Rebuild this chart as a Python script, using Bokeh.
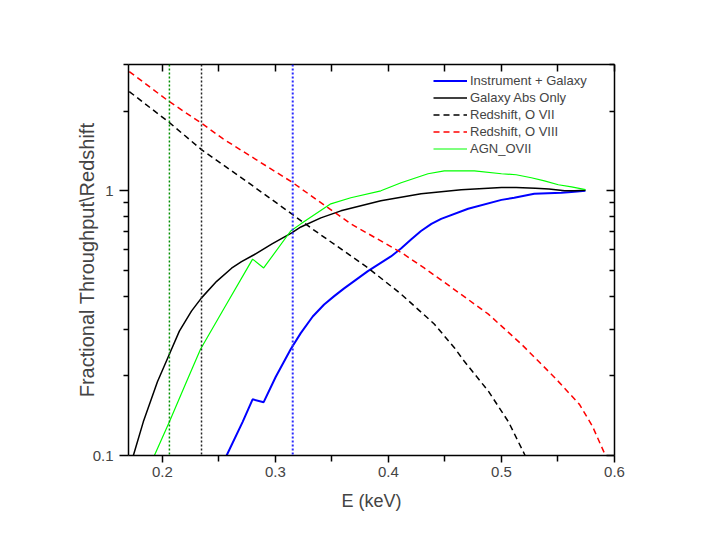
from bokeh.plotting import figure
from bokeh.models import (Range1d, FixedTicker, LinearAxis, LogAxis, Span,
                          CustomJSTickFormatter)
from bokeh.embed import file_html
from bokeh.resources import INLINE

# ---------------- data ----------------
energy_inst = [0.2568, 0.2710, 0.2798, 0.2896, 0.3002, 0.3135, 0.3224, 0.3330,
               0.3431, 0.3520, 0.3605, 0.3818, 0.4022, 0.4111, 0.4200, 0.4288,
               0.4380, 0.4466, 0.4705, 0.5000, 0.5113, 0.5290, 0.5530, 0.5619,
               0.5743]
thru_inst = [0.100, 0.134, 0.163, 0.159, 0.198, 0.252, 0.290, 0.335,
             0.372, 0.400, 0.427, 0.497, 0.565, 0.605, 0.655, 0.705,
             0.750, 0.783, 0.855, 0.924, 0.941, 0.974, 0.983, 0.990,
             1.000]

energy_gal = [0.1743, 0.1831, 0.1956, 0.2050, 0.2150, 0.2257, 0.2346, 0.2480,
              0.2612, 0.2700, 0.2807, 0.2970, 0.3144, 0.3225, 0.3402, 0.3579,
              0.3933, 0.4289, 0.4644, 0.5000, 0.5130, 0.5300, 0.5420, 0.5560,
              0.5650, 0.5743]
thru_gal = [0.100, 0.134, 0.190, 0.235, 0.295, 0.351, 0.394, 0.455,
            0.510, 0.540, 0.572, 0.630, 0.693, 0.730, 0.790, 0.840,
            0.917, 0.974, 1.009, 1.030, 1.030, 1.022, 1.015, 1.000,
            1.000, 1.005]

energy_o7 = [0.1707, 0.2062, 0.2346, 0.2700, 0.3144, 0.3314, 0.3820, 0.4112,
             0.4405, 0.4587, 0.4671, 0.4884, 0.5062, 0.5209]
redshift_o7 = [2.37, 1.81, 1.43, 1.12, 0.818, 0.724, 0.511, 0.407,
               0.314, 0.254, 0.227, 0.175, 0.134, 0.100]

energy_o8 = [0.1707, 0.2062, 0.2346, 0.2538, 0.3144, 0.3667, 0.4112, 0.4316,
             0.4556, 0.4884, 0.5178, 0.5476, 0.5690, 0.5805, 0.5920]
redshift_o8 = [2.82, 2.17, 1.80, 1.57, 1.08, 0.75, 0.585, 0.511,
               0.432, 0.342, 0.263, 0.196, 0.156, 0.129, 0.100]

energy_agn = [0.1929, 0.2062, 0.2213, 0.2337, 0.2541, 0.2798, 0.2896, 0.3135,
              0.3225, 0.3490, 0.3667, 0.3933, 0.4112, 0.4350, 0.4494, 0.4760,
              0.5000, 0.5130, 0.5264, 0.5380, 0.5503, 0.5620, 0.5743]
thru_agn = [0.100, 0.134, 0.190, 0.252, 0.357, 0.552, 0.511, 0.705,
            0.750, 0.893, 0.941, 1.000, 1.072, 1.160, 1.190, 1.190,
            1.160, 1.150, 1.120, 1.090, 1.054, 1.035, 1.010]

marker_energies = [0.2062, 0.2346, 0.3153]
marker_colors = ["#009000", "#222222", "#2a2aff"]
marker_widths = [1.5, 1.5, 2]

x_ticks = [0.2, 0.3, 0.4, 0.5, 0.6]
x_minor = [0.25, 0.35, 0.45, 0.55]
y_ticks = [0.1, 1]
y_minor = [0.2, 0.3, 0.4, 0.5, 0.6, 0.7, 0.8, 0.9, 2, 3]

FONT = "Liberation Sans"

p = figure(width=690, height=525, y_axis_type="log",
           x_range=Range1d(0.17, 0.6), y_range=Range1d(0.1, 3.0),
           output_backend="svg", toolbar_location=None,
           min_border_left=128, min_border_right=76,
           min_border_top=64, min_border_bottom=70)
p.outline_line_color = None
p.xgrid.visible = False
p.ygrid.visible = False
p.background_fill_color = "white"
p.border_fill_color = "white"

xa = p.xaxis[0]
xa.ticker = FixedTicker(ticks=x_ticks, minor_ticks=x_minor)
xa.axis_label = "E (keV)"
ya = p.yaxis[0]
ya.ticker = FixedTicker(ticks=y_ticks, minor_ticks=y_minor)
ya.formatter = CustomJSTickFormatter(code="return String(tick)")
ya.axis_label = "Fractional Throughput\\Redshift"

for ax in (xa, ya):
    ax.axis_line_width = 1.5
    ax.major_tick_line_width = 1.5
    ax.minor_tick_line_width = 1.5
    ax.major_label_text_font = FONT
    ax.major_label_text_font_size = "15px"
    ax.axis_label_text_font = FONT
    ax.axis_label_text_font_style = "normal"
    ax.major_tick_in = 0
    ax.minor_tick_in = 0

xa.axis_label_text_font_size = "18px"
ya.axis_label_text_font_size = "20px"

xa.major_tick_out = 7
xa.minor_tick_out = 6
xa.major_label_standoff = 4
xa.axis_label_standoff = 11

ya.major_tick_out = 9
ya.minor_tick_out = 5
ya.major_label_standoff = 6
ya.axis_label_standoff = -8

top = LinearAxis(ticker=FixedTicker(ticks=x_ticks, minor_ticks=x_minor),
                 formatter=CustomJSTickFormatter(code="return ''"))
right = LogAxis(ticker=FixedTicker(ticks=y_ticks, minor_ticks=y_minor),
                formatter=CustomJSTickFormatter(code="return ''"))
for ax in (top, right):
    ax.axis_line_width = 1.5
    ax.major_tick_line_width = 1.5
    ax.minor_tick_line_width = 1.5
    ax.major_tick_out = 0
    ax.minor_tick_out = 0
top.major_tick_in = 7
top.minor_tick_in = 7
right.major_tick_in = 8
right.minor_tick_in = 5
p.add_layout(top, "above")
p.add_layout(right, "right")

for e, c, w in zip(marker_energies, marker_colors, marker_widths):
    p.add_layout(Span(location=e, dimension="height", line_color=c,
                      line_width=w, line_dash="2 2"))

p.line(energy_inst, thru_inst, line_color="#0000ff", line_width=2,
       legend_label="Instrument + Galaxy")
p.line(energy_gal, thru_gal, line_color="#000000", line_width=1.5,
       legend_label="Galaxy Abs Only")
p.line(energy_o7, redshift_o7, line_color="#000000", line_width=1.5,
       line_dash="6 4", legend_label="Redshift, O VII")
p.line(energy_o8, redshift_o8, line_color="#ff0000", line_width=1.5,
       line_dash="6 4", legend_label="Redshift, O VIII")
p.line(energy_agn, thru_agn, line_color="#00ff00", line_width=1.2,
       legend_label="AGN_OVII")

lg = p.legend[0]
lg.location = (305, 298)
lg.padding = 0
lg.margin = 0
lg.spacing = 0
lg.border_line_color = None
lg.background_fill_alpha = 0
lg.glyph_width = 34
lg.glyph_height = 17
lg.label_height = 17
lg.label_standoff = 3
lg.label_text_font = FONT
lg.label_text_font_size = "13px"

open("out.html", "w").write(file_html(p, INLINE))
